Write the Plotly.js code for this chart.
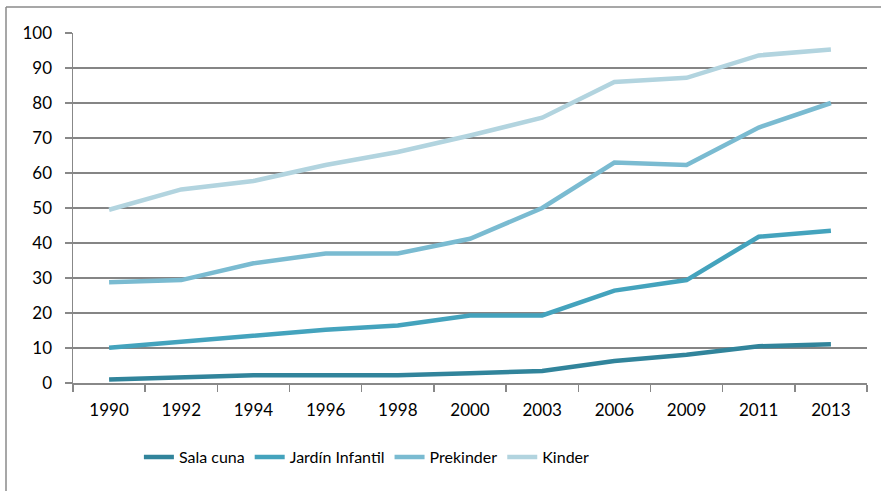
<!DOCTYPE html>
<html>
<head>
<meta charset="utf-8">
<script src="https://cdn.plot.ly/plotly-3.0.1.min.js"></script>
<style>html,body{margin:0;padding:0;background:#fff;}#chart{width:881px;height:491px;}</style>
</head>
<body>
<div id="chart"></div>
<script>
const years = ["1990","1992","1994","1996","1998","2000","2003","2006","2009","2011","2013"];
const salaCuna = [1.0, 1.6, 2.2, 2.2, 2.2, 2.8, 3.4, 6.3, 8.1, 10.5, 11.1];
const jardinInfantil = [10.1, 11.7, 13.4, 15.2, 16.4, 19.3, 19.3, 26.4, 29.4, 41.8, 43.5];
const prekinder = [28.8, 29.4, 34.2, 37.0, 37.0, 41.2, 50.0, 63.0, 62.3, 73.0, 80.0];
const kinder = [49.5, 55.3, 57.7, 62.3, 66.0, 70.7, 75.8, 86.0, 87.2, 93.6, 95.3];
const seriesNames = ["Sala cuna","Jardín Infantil","Prekinder","Kinder"];
const seriesColors = ["#31849b","#44a3bd","#7abbd1","#b2d4df"];
const seriesValues = [salaCuna, jardinInfantil, prekinder, kinder];

const font = "Lato, 'Open Sans', sans-serif";
const traces = seriesValues.map((v,i)=>({
  type:"scatter", mode:"lines", x: years, y: v, name: seriesNames[i],
  line:{color: seriesColors[i], width:4.5}, hoverinfo:"skip"
}));

const layout = {
  width:881, height:491,
  margin:{l:73, r:14, t:33, b:108},
  paper_bgcolor:"#fff", plot_bgcolor:"#fff",
  font:{family:font, size:16, color:"#000"},
  showlegend:true,
  legend:{orientation:"h", x:0.083, xanchor:"left", y:-0.212, yanchor:"middle",
          font:{family:font, size:16, color:"#000"}, itemwidth:30, tracegroupgap:0},
  xaxis:{type:"category", range:[-0.5,10.5], showgrid:false, zeroline:false,
         showline:true, linecolor:"#888", linewidth:1.5,
         ticks:"outside", tickson:"boundaries", ticklen:7, tickcolor:"#888", tickwidth:1.5,
         ticklabelstandoff:11, tickfont:{family:font, size:17}, fixedrange:true},
  yaxis:{range:[0,100], dtick:10, showgrid:true, gridcolor:"#858585", gridwidth:1.5,
         zeroline:false, showline:true, linecolor:"#888", linewidth:1.5,
         ticks:"outside", ticklen:7, tickcolor:"#888", tickwidth:1.5,
         ticklabelstandoff:9, tickfont:{family:font, size:17}, fixedrange:true},
  shapes:[
    {type:"line", xref:"paper", yref:"paper", x0:(6-73)/794, x1:(6-73)/794, y0:1+(33-7)/350, y1:-0.4,
     line:{color:"#8a8a8a", width:1.5}},
    {type:"line", xref:"paper", yref:"paper", x0:(6-73)/794, x1:1.1, y0:1+(33-7)/350, y1:1+(33-7)/350,
     line:{color:"#8a8a8a", width:1.5}}
  ]
};
Plotly.newPlot("chart", traces, layout, {displayModeBar:false, staticPlot:true});
</script>
</body>
</html>
